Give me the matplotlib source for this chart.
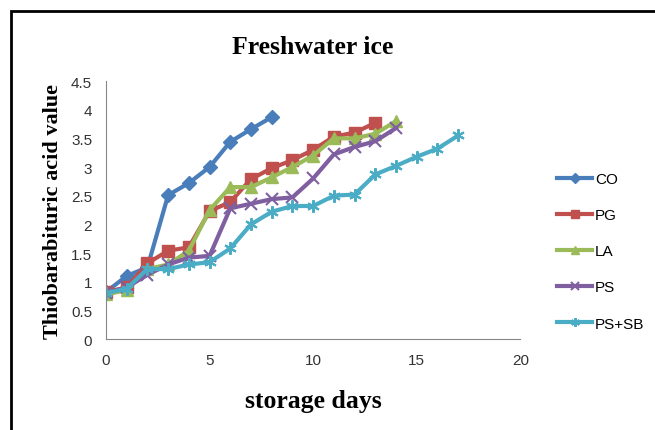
import matplotlib.pyplot as plt
from matplotlib.patches import Rectangle

days_co = [0, 1, 2, 3, 4, 5, 6, 7, 8]
co = [0.82, 1.1, 1.25, 2.51, 2.72, 3.0, 3.44, 3.66, 3.87]

days_pg = list(range(0, 14))
pg = [0.82, 0.9, 1.32, 1.54, 1.6, 2.23, 2.39, 2.79, 2.98, 3.12, 3.3, 3.53, 3.6, 3.77]

days_la = list(range(0, 15))
la = [0.78, 0.85, 1.22, 1.3, 1.54, 2.25, 2.65, 2.65, 2.82, 3.0, 3.2, 3.5, 3.5, 3.58, 3.8]

days_ps = list(range(0, 15))
ps = [0.8, 0.9, 1.12, 1.3, 1.42, 1.45, 2.28, 2.36, 2.44, 2.47, 2.8, 3.22, 3.35, 3.45, 3.68]

days_pssb = list(range(0, 18))
pssb = [0.8, 0.88, 1.22, 1.22, 1.3, 1.34, 1.58, 2.0, 2.22, 2.32, 2.32, 2.5, 2.52, 2.87, 3.02, 3.18, 3.32, 3.55]

fig = plt.figure(figsize=(6.55, 4.31), dpi=100)
ax = fig.add_axes([0.1618, 0.2111, 0.6326, 0.5986])

# outer frame
fig.patches.append(Rectangle((11 / 655, -0.05), 1.2, 1 - 12 / 431 + 0.05,
                             transform=fig.transFigure, fill=False,
                             edgecolor='black', linewidth=2))

ax.plot(days_co, co, color='#4a7ebb', marker='D', markersize=7, linewidth=3, label='CO')
ax.plot(days_pg, pg, color='#c0504d', marker='s', markersize=9, linewidth=3, label='PG')
ax.plot(days_la, la, color='#9bbb59', marker='^', markersize=9, linewidth=3, label='LA')
ax.plot(days_ps, ps, color='#7f5fa0', marker='x', markersize=8, markeredgewidth=1.5, linewidth=3, label='PS')
ax.plot(days_pssb, pssb, color='#4bacc6', marker=(6, 2, 0), markersize=9, markeredgewidth=1.5, linewidth=3, label='PS+SB')

ax.set_xlim(0, 20)
ax.set_ylim(0, 4.5)
ax.set_xticks([0, 5, 10, 15, 20])
ax.set_yticks([0, 0.5, 1, 1.5, 2, 2.5, 3, 3.5, 4, 4.5])
ax.set_yticklabels(['0', '0.5', '1', '1.5', '2', '2.5', '3', '3.5', '4', '4.5'])
ax.tick_params(length=0, labelsize=11, pad=10, colors='#333333')
for lab in ax.get_xticklabels() + ax.get_yticklabels():
    lab.set_family('Liberation Sans')
ax.spines['top'].set_visible(False)
ax.spines['right'].set_visible(False)
ax.spines['left'].set_color('#868686')
ax.spines['bottom'].set_color('#868686')

ax.set_title('Freshwater ice', fontsize=18.5, fontweight='bold', family='Liberation Serif', pad=20)
ax.set_xlabel('storage days', fontsize=18.5, fontweight='bold', family='Liberation Serif', labelpad=16)
ax.set_ylabel('Thiobarabituric acid value', fontsize=16, fontweight='bold', family='Liberation Serif', labelpad=6)

ax.legend(loc='center left', bbox_to_anchor=(1.07, 0.34), frameon=False, markerscale=0.7,
          handlelength=2.3, handletextpad=0.2, borderpad=0, labelspacing=1.45,
          prop={'family': 'Liberation Sans', 'size': 11})

plt.savefig('out.png')
